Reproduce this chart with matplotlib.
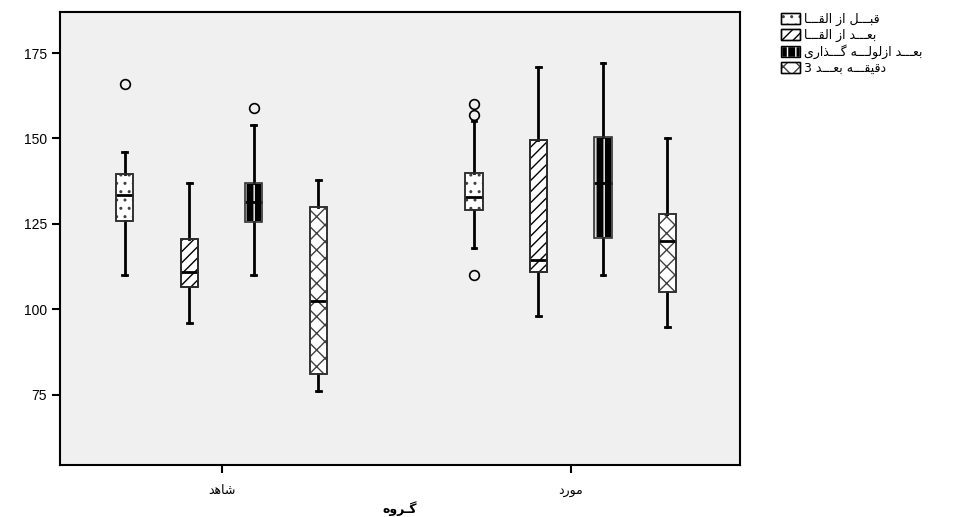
import matplotlib
matplotlib.use("Agg")
import matplotlib.pyplot as plt
from matplotlib.patches import Patch, PathPatch
from matplotlib.legend_handler import HandlerTuple

plt.rcParams['font.family'] = ['Liberation Sans', 'DejaVu Sans']
plt.rcParams['hatch.linewidth'] = 1.0

# data (SPSS boxplot)
groups = ['شاهد', 'مورد']
series = ['قبـــل از القـــا', 'بعـــد از القـــا', 'بعـــد ازلولـــه گـــذاری', 'دقیقـــه بعـــد 3']
whislo = [[110, 96, 110, 76], [118, 98, 110, 95]]
q1 = [[126, 106.5, 125.5, 81], [129, 111, 121, 105]]
med = [[133.5, 111, 131.5, 102.5], [133, 114.5, 137, 120]]
q3 = [[139.5, 120.5, 137, 130], [140, 149.5, 150.5, 128]]
whishi = [[146, 137, 154, 138], [155, 171, 172, 150]]
fliers = [[[166], [], [159], []], [[157, 160, 110], [], [], []]]
yticks = [75, 100, 125, 150, 175]
xlabel = 'گـروه'

# minimal arabic/persian shaping (matplotlib has no complex text layout)
FORMS = {
    'ا': ('\uFE8D', '\uFE8E'), 'د': ('\uFEA9', '\uFEAA'), 'ذ': ('\uFEAB', '\uFEAC'),
    'ر': ('\uFEAD', '\uFEAE'), 'ز': ('\uFEAF', '\uFEB0'), 'و': ('\uFEED', '\uFEEE'),
    'ب': ('\uFE8F', '\uFE90', '\uFE91', '\uFE92'), 'ت': ('\uFE95', '\uFE96', '\uFE97', '\uFE98'),
    'ش': ('\uFEB5', '\uFEB6', '\uFEB7', '\uFEB8'), 'ع': ('\uFEC9', '\uFECA', '\uFECB', '\uFECC'),
    'ق': ('\uFED5', '\uFED6', '\uFED7', '\uFED8'), 'ل': ('\uFEDD', '\uFEDE', '\uFEDF', '\uFEE0'),
    'م': ('\uFEE1', '\uFEE2', '\uFEE3', '\uFEE4'), 'ه': ('\uFEE9', '\uFEEA', '\uFEEB', '\uFEEC'),
    'گ': ('\uFB92', '\uFB93', '\uFB94', '\uFB95'), '\u06CC': ('\uFBFC', '\uFBFD', '\uFBFE', '\uFBFF'),
    '\u064A': ('\uFBFC', '\uFBFD', '\uFBFE', '\uFBFF'), 'ـ': ('ـ', 'ـ', 'ـ', 'ـ'),
}


def shape(s):
    out = []
    for i, c in enumerate(s):
        if c not in FORMS:
            out.append(c)
            continue
        f = FORMS[c]
        prev = s[i - 1] if i > 0 else ''
        nxt = s[i + 1] if i + 1 < len(s) else ''
        jp = prev in FORMS and len(FORMS[prev]) == 4
        jn = len(f) == 4 and nxt in FORMS
        if jp and jn:
            out.append(f[3])
        elif jp:
            out.append(f[1])
        elif jn:
            out.append(f[2])
        else:
            out.append(f[0])
    return ''.join(reversed(out))


hatches = ['..', '///', '||', 'xx']
faces = ['white', 'white', 'black', 'white']
hcols = ['#404040', 'black', 'white', '#404040']
offsets = [-0.277, -0.0925, 0.0925, 0.277]

fig = plt.figure(figsize=(9.59, 5.17), dpi=100)
ax = fig.add_axes([60 / 959, 1 - 465 / 517, 680 / 959, 453 / 517])
ax.set_facecolor('#f0f0f0')

for g in range(len(groups)):
    for s in range(len(series)):
        st = dict(whislo=whislo[g][s], q1=q1[g][s], med=med[g][s], q3=q3[g][s],
                  whishi=whishi[g][s], fliers=fliers[g][s])
        b = ax.bxp([st], positions=[g + 1 + offsets[s]], widths=0.049, capwidths=0.014,
                   patch_artist=True, showfliers=True,
                   boxprops=dict(linewidth=1.2),
                   whiskerprops=dict(color='black', linewidth=2),
                   capprops=dict(color='black', linewidth=2),
                   medianprops=dict(color='black', linewidth=2),
                   flierprops=dict(marker='o', markerfacecolor='none', markeredgecolor='black',
                                   markersize=7, markeredgewidth=1.2))
        box = b['boxes'][0]
        box.set_facecolor(faces[s])
        box.set_edgecolor(hcols[s])
        box.set_hatch(hatches[s])
        # dark outline on top (hatch colour follows edge colour)
        ax.add_patch(PathPatch(box.get_path(), fill=False, edgecolor='#303030',
                               linewidth=1.2, zorder=box.get_zorder() + 0.1))

ax.set_xlim(0.537, 2.485)
ax.set_ylim(54.5, 187)
ax.set_yticks(yticks)
ax.set_xticks([1, 2])
ax.set_xticklabels([shape(t) for t in groups], fontsize=9, family=['DejaVu Sans'])
ax.tick_params(axis='both', direction='out', length=6, width=1.5, labelsize=10)
ax.tick_params(axis='x', labelsize=9, pad=8)
for sp in ax.spines.values():
    sp.set_linewidth(1.5)
ax.set_xlabel(shape(xlabel), fontsize=9, fontweight='bold', family=['DejaVu Sans'], labelpad=3)

handles = [(Patch(facecolor=faces[s], edgecolor=hcols[s], hatch=hatches[s]),
            Patch(fill=False, edgecolor='black', linewidth=1.0)) for s in range(len(series))]
labels = [shape(t) for t in series]
leg = fig.legend(handles, labels, handler_map={tuple: HandlerTuple(ndivide=1)},
                 loc='upper left', bbox_to_anchor=(776 / 959, 1 - 8 / 517),
                 frameon=False, handlelength=1.5, handleheight=1.0,
                 handletextpad=0.35, labelspacing=0.2, borderaxespad=0,
                 prop={'family': ['DejaVu Sans'], 'size': 9})

fig.savefig('out.png', dpi=100)
